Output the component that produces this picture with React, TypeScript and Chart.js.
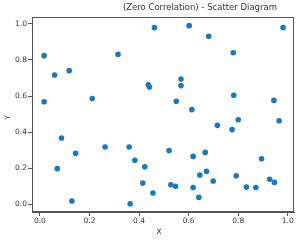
import React, { useEffect, useRef } from "react";
import { Chart, registerables } from "chart.js";

Chart.register(...registerables);

const titleText = "(Zero Correlation) - Scatter Diagram";
const xLabel = "X";
const yLabel = "Y";
const xTicks = [0, 0.2, 0.4, 0.6, 0.8, 1.0];
const yTicks = [0, 0.2, 0.4, 0.6, 0.8, 1.0];

const xValues = [
  0.017, 0.059, 0.118, 0.017, 0.211, 0.315, 0.437, 0.442, 0.462, 0.602,
  0.681, 0.981, 0.78, 0.569, 0.569, 0.55, 0.613, 0.782, 0.944, 0.8,
  0.965, 0.716, 0.775, 0.521, 0.618, 0.667, 0.894, 0.645, 0.672, 0.699,
  0.792, 0.927, 0.946, 0.833, 0.871, 0.528, 0.547, 0.618, 0.641, 0.456,
  0.087, 0.144, 0.07, 0.263, 0.36, 0.383, 0.423, 0.415, 0.129, 0.364,
];
const yValues = [
  0.824, 0.717, 0.741, 0.569, 0.587, 0.831, 0.663, 0.65, 0.979, 0.99,
  0.931, 0.979, 0.84, 0.695, 0.658, 0.571, 0.525, 0.604, 0.576, 0.469,
  0.463, 0.438, 0.414, 0.298, 0.266, 0.288, 0.253, 0.163, 0.183, 0.13,
  0.159, 0.139, 0.122, 0.096, 0.094, 0.109, 0.1, 0.094, 0.039, 0.063,
  0.368, 0.283, 0.198, 0.318, 0.318, 0.244, 0.209, 0.118, 0.019, 0.004,
];

const FONT = "'DejaVu Sans', sans-serif";

const framePlugin = {
  id: "frameAndLabels",
  afterDatasetsDraw(chart: any) {
    const { ctx, chartArea } = chart;
    const { left, right, top, bottom } = chartArea;
    ctx.save();
    ctx.strokeStyle = "#555";
    ctx.lineWidth = 1;
    ctx.strokeRect(left + 0.5, top + 0.5, right - left - 1, bottom - top - 1);
    ctx.fillStyle = "#333";
    ctx.font = `8.5px ${FONT}`;
    ctx.textAlign = "right";
    ctx.textBaseline = "middle";
    ctx.fillText(titleText, right - 17, 8);
    ctx.font = `7.5px ${FONT}`;
    ctx.textAlign = "center";
    ctx.fillText(xLabel, (left + right) / 2 - 4, 232);
    ctx.translate(8, (top + bottom) / 2 + 3);
    ctx.rotate(-Math.PI / 2);
    ctx.fillText(yLabel, 0, 0);
    ctx.restore();
  },
};

export default function App() {
  const ref = useRef<HTMLCanvasElement>(null);
  useEffect(() => {
    document.body.style.margin = "0";
    const points = xValues.map((x, i) => ({ x, y: yValues[i] }));
    const chart = new Chart(ref.current!, {
      type: "scatter",
      data: {
        datasets: [
          {
            data: points,
            backgroundColor: "#1f77b4",
            borderColor: "#1f77b4",
            pointRadius: 2.8,
            borderWidth: 0,
          },
        ],
      },
      options: {
        animation: false,
        responsive: false,
        maintainAspectRatio: false,
        layout: { padding: { top: 17, right: 6, left: 0, bottom: 0 } },
        plugins: { legend: { display: false }, tooltip: { enabled: false }, title: { display: false } },
        scales: {
          x: {
            type: "linear",
            min: -0.032,
            max: 1.025,
            afterBuildTicks: (axis: any) => {
              axis.ticks = xTicks.map((v) => ({ value: v }));
            },
            afterFit: (axis: any) => {
              axis.height = 29;
            },
            grid: { display: true, drawOnChartArea: false, drawTicks: true, tickLength: 4, color: "#555" },
            border: { display: true, color: "#555" },
            ticks: {
              color: "#333",
              font: { family: FONT, size: 7.5 },
              padding: 1,
              maxRotation: 0,
              callback: (v: any) => Number(v).toFixed(1),
            },
          },
          y: {
            type: "linear",
            min: -0.042,
            max: 1.038,
            afterBuildTicks: (axis: any) => {
              axis.ticks = yTicks.map((v) => ({ value: v }));
            },
            afterFit: (axis: any) => {
              axis.width = 32;
            },
            grid: { display: true, drawOnChartArea: false, drawTicks: true, tickLength: 4, color: "#555" },
            border: { display: true, color: "#555" },
            ticks: {
              color: "#333",
              font: { family: FONT, size: 7.5 },
              padding: 1,
              callback: (v: any) => Number(v).toFixed(1),
            },
          },
        },
      },
      plugins: [framePlugin],
    });
    return () => chart.destroy();
  }, []);
  return (
    <div style={{ width: 300, height: 241 }}>
      <canvas ref={ref} width={300} height={241} style={{ display: "block", width: 300, height: 241 }} />
    </div>
  );
}
